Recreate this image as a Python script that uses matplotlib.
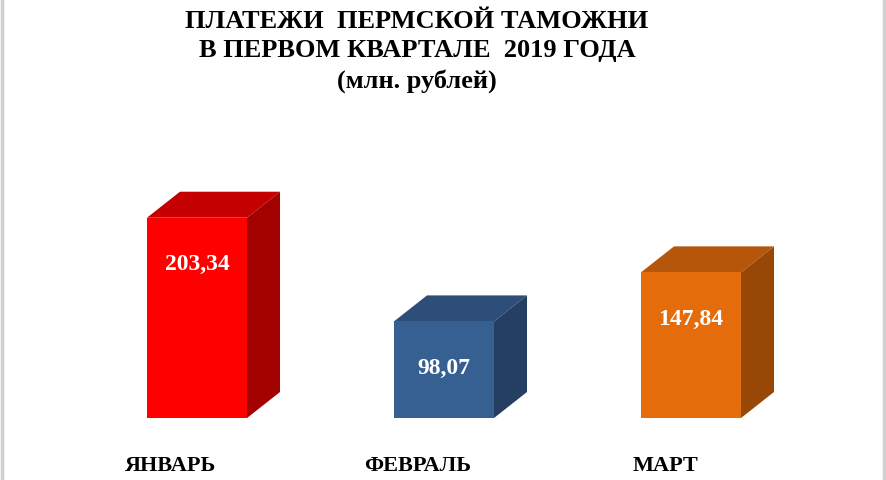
import matplotlib.pyplot as plt
import numpy as np
from matplotlib.patches import Polygon

# data
months = ['ЯНВАРЬ', 'ФЕВРАЛЬ', 'МАРТ']
values = [203.34, 98.07, 147.84]
labels = ['203,34', '98,07', '147,84']

front = ['#fe0000', '#365f92', '#e46c0a']
top = ['#c40000', '#2c4e78', '#b5560a']
side = ['#a30000', '#243f62', '#984806']

plt.rcParams['font.family'] = ['Liberation Serif', 'DejaVu Serif']

fig = plt.figure(figsize=(8.86, 4.81), dpi=100)
ax = fig.add_axes([0, 62 / 481, 1, 318 / 481])

x = np.arange(len(values))
w = 0.405          # bar width (category units)
dx = 33 / 247      # depth offset in x
dy = 26 / 0.985    # depth offset in y (value units)

ax.bar(x, values, width=w, color=front, edgecolor='none', zorder=3)

for i, v in enumerate(values):
    l, r = x[i] - w / 2, x[i] + w / 2
    # top face
    ax.add_patch(Polygon([(l, v), (r, v), (r + dx, v + dy), (l + dx, v + dy)],
                         closed=True, facecolor=top[i], edgecolor='none', zorder=2))
    # side face
    ax.add_patch(Polygon([(r, 0), (r + dx, dy), (r + dx, v + dy), (r, v)],
                         closed=True, facecolor=side[i], edgecolor='none', zorder=2))
    # value label
    ax.annotate(labels[i], xy=(x[i], v), xytext=(0, -33), textcoords='offset points',
                ha='center', va='center', color='white', fontsize=17, fontweight='bold')
    # month label
    ax.annotate(months[i], xy=(x[i] - 0.105, 0), xytext=(0, -34), textcoords='offset points',
                ha='center', va='center', color='black', fontsize=16, fontweight='bold',
                annotation_clip=False)

ax.set_xlim(-197 / 247, (886 - 197) / 247)
ax.set_ylim(0, 318 / 0.985)
ax.axis('off')

fig.text(417 / 886, 1 - 21 / 481, 'ПЛАТЕЖИ  ПЕРМСКОЙ ТАМОЖНИ', ha='center', va='center',
         fontsize=19, fontweight='bold')
fig.text(417 / 886, 1 - 51 / 481, 'В ПЕРВОМ КВАРТАЛЕ  2019 ГОДА', ha='center', va='center',
         fontsize=19, fontweight='bold')
fig.text(417 / 886, 1 - 81 / 481, '(млн. рублей)', ha='center', va='center',
         fontsize=19, fontweight='bold')

# light frame on the sides
fig.add_artist(plt.Line2D([0.002, 0.002], [0, 1], color='#d0d0d0', lw=2.5, transform=fig.transFigure))
fig.add_artist(plt.Line2D([0.998, 0.998], [0, 1], color='#d0d0d0', lw=2.5, transform=fig.transFigure))

fig.savefig('out.png', dpi=100)
